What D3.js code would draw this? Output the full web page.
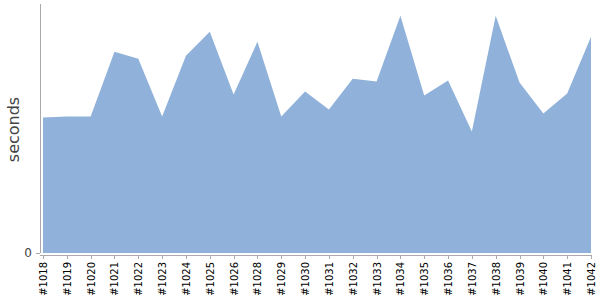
<!DOCTYPE html>
<html>
<head>
<meta charset="utf-8">
<script src="https://cdn.jsdelivr.net/npm/d3@7"></script>
<style>
  body { margin: 0; background: #fff; }
  .axis path, .axis line { stroke: #aaa; shape-rendering: crispEdges; }
  .axis text { font-family: "DejaVu Sans", sans-serif; font-size: 10px; fill: #000; }
</style>
</head>
<body>
<div id="chart"></div>
<script>
// build numbers on the x axis (no #1027 in the run)
const builds = ["#1018", "#1019", "#1020", "#1021", "#1022", "#1023", "#1024", "#1025",
    "#1026", "#1028", "#1029", "#1030", "#1031", "#1032", "#1033", "#1034", "#1035",
    "#1036", "#1037", "#1038", "#1039", "#1040", "#1041", "#1042"];
// build duration in seconds
const durations = [136, 137, 137, 202, 195, 137, 198, 222, 159, 212, 137, 162, 144,
    175, 172, 238, 158, 173, 122, 238, 171, 140, 160, 217];
const yTicks = [0];

let margin = {top: 4, right: 9, bottom: 45, left: 40},
    width = 600 - margin.left - margin.right,
    height = 300 - margin.top - margin.bottom;

let svg = d3.select("#chart").append("svg")
    .attr("width", width + margin.left + margin.right)
    .attr("height", height + margin.top + margin.bottom)
    .append("g")
    .attr("transform", "translate(" + margin.left + "," + margin.top + ")");

let x = d3.scalePoint()
    .domain(builds)
    .range([3, width]);

let y = d3.scaleLinear()
    .domain([0, d3.max(durations) * 1.05])
    .range([height - 2, 0]);

let area = d3.area()
    .x((d, i) => x(builds[i]))
    .y0(y(0))
    .y1(d => y(d));

svg.append("path")
    .datum(durations)
    .attr("fill", "#8fb1da")
    .attr("d", area);

// y axis, only the zero tick
let yAxis = svg.append("g")
    .attr("class", "axis")
    .call(d3.axisLeft(y).tickValues(yTicks).tickSize(4).tickPadding(4));
yAxis.select(".domain").attr("d", "M0," + y(0) + "V0");
yAxis.selectAll("text").style("font-size", "12px").style("fill", "#444");

// x axis below the area
let xAxis = svg.append("g")
    .attr("class", "axis")
    .attr("transform", "translate(0," + height + ")")
    .call(d3.axisBottom(x).tickSize(4).tickSizeOuter(0));
xAxis.select(".domain").attr("d", "M0,0H" + width);
xAxis.selectAll("text")
    .attr("transform", "rotate(-90)")
    .attr("text-anchor", "end")
    .attr("x", -7)
    .attr("y", 0)
    .attr("dy", "0.35em");

svg.append("text")
    .attr("transform", "rotate(-90)")
    .attr("x", -(height / 2))
    .attr("y", -21.5)
    .attr("text-anchor", "middle")
    .style("font-family", "DejaVu Sans, sans-serif")
    .style("font-size", "16px")
    .style("fill", "#444")
    .text("seconds");
</script>
</body>
</html>
